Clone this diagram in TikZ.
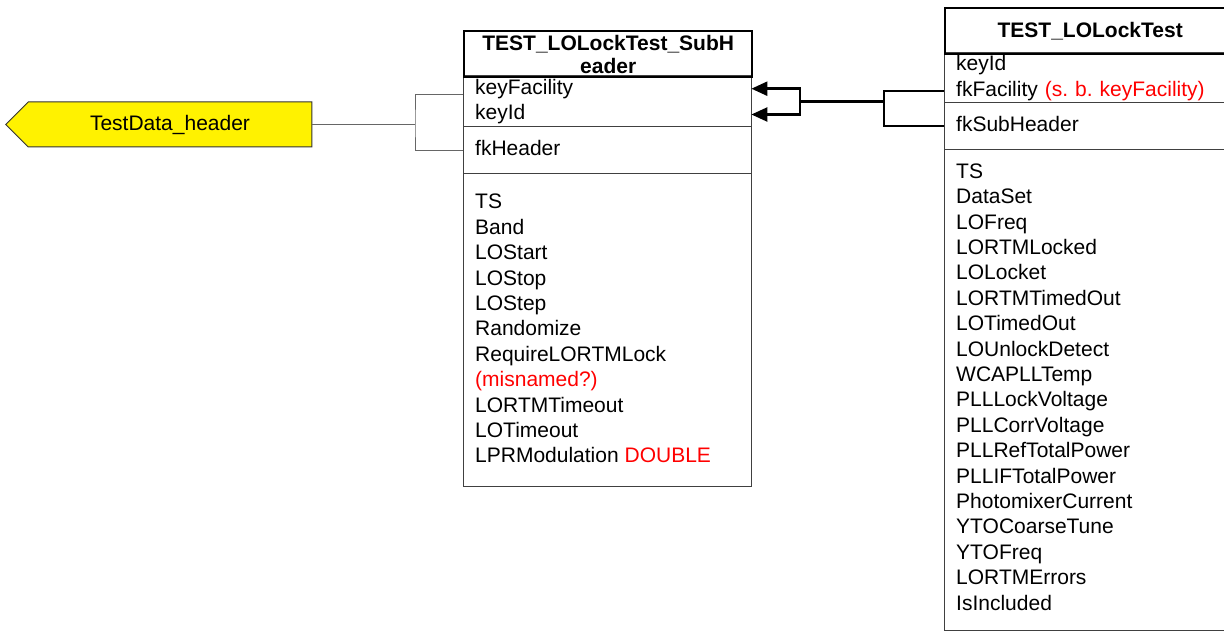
\documentclass[tikz,border=0pt]{standalone}
\usepackage{fontspec}
\setmainfont{Liberation Sans}
\usetikzlibrary{shapes.symbols, arrows.meta, positioning}

\begin{document}
\begin{tikzpicture}[x=1pt,y=-1pt,font=\fontsize{21}{25.4}\selectfont]
			\tikzstyle{field}=[anchor=west, inner xsep=12pt, inner ysep=0pt, text width=264pt, align=left, text height=15pt, text depth=4pt, minimum height=25.4pt]
			\tikzstyle{rfield}=[field, text width=266pt]
			\tikzstyle{fieldlist}=[anchor=north west, inner xsep=12pt, inner ysep=0pt, align=left]
			\tikzstyle{title}=[draw, line width=2.4pt, inner sep=0pt, align=center, font=\fontsize{21}{23}\selectfont\bfseries]
			\tikzstyle{frame}=[draw=black!75, line width=1pt]
			\tikzstyle{link}=[draw=black!60, line width=1pt]
			\tikzstyle{fklink}=[draw=black, line width=2.4pt]
			
			\useasboundingbox (0,0) rectangle (1224,631);
			
			\node[signal, signal to=west, signal from=nowhere, fill=yellow, draw=black!80, line width=1pt, minimum width=306pt, minimum height=45pt, inner sep=0pt] (hdr) at (170,124.5) {TestData\_header};
			
			\draw[frame] (463,76) rectangle (751,486);
			\draw[frame] (463,126.5) -- (751,126.5);
			\draw[frame] (463,173.5) -- (751,173.5);
			\node[title, minimum width=288pt, minimum height=46pt, anchor=north west] (shTitle) at (463,30) {TEST\_LOLockTest\_SubH\\eader};
			\node[field] (shKeyFacility) at (463,88.7) {keyFacility};
			\node[field, below=0pt of shKeyFacility] (shKeyId) {keyId};
			\node[field] (shFkHeader) at (463,150.5) {fkHeader};
			\node[fieldlist] (shAttrs) at (463,194) {TS\\Band\\LOStart\\LOStop\\LOStep\\Randomize\\RequireLORTMLock\\\textcolor{red}{(misnamed?)}\\LORTMTimeout\\LOTimeout\\LPRModulation \textcolor{red}{DOUBLE}};
			
			\draw[frame] (1230,53) -- (944,53) -- (944,630) -- (1230,630);
			\draw[frame] (944,102.5) -- (1230,102.5);
			\draw[frame] (944,150) -- (1230,150);
			\node[title, minimum width=290pt, minimum height=46pt, anchor=north west] (ltTitle) at (944,7) {TEST\_LOLockTest};
			\node[rfield] (ltKeyId) at (944,65.5) {keyId};
			\node[rfield, below=0pt of ltKeyId] (ltFkFacility) {fkFacility \textcolor{red}{(s.\ b.\ keyFacility)}};
			\node[rfield] (ltFkSubHeader) at (944,126) {fkSubHeader};
			\node[fieldlist] (ltAttrs) at (944,163.5) {TS\\DataSet\\LOFreq\\LORTMLocked\\LOLocket\\LORTMTimedOut\\LOTimedOut\\LOUnlockDetect\\WCAPLLTemp\\PLLLockVoltage\\PLLCorrVoltage\\PLLRefTotalPower\\PLLIFTotalPower\\PhotomixerCurrent\\YTOCoarseTune\\YTOFreq\\LORTMErrors\\IsIncluded};
			
			\draw[link] (hdr.east) -- (415,124.5) coordinate (jL);
			\draw[link] ([yshift=-6pt]shKeyFacility.west) -| (jL) |- (shFkHeader.west);
			
			\coordinate (jR) at (884,101.5);
			\coordinate (jA) at (800,101.5);
			\draw[fklink] (ltFkFacility.west) -| (jR) |- (ltFkSubHeader.west);
			\draw[fklink] (jR) -- (jA);
			\draw[fklink, -{Triangle[length=16pt,width=14pt]}] (jA) |- (shKeyFacility.east);
			\draw[fklink, -{Triangle[length=16pt,width=14pt]}] (jA) |- (shKeyId.east);
		\end{tikzpicture}
\end{document}
